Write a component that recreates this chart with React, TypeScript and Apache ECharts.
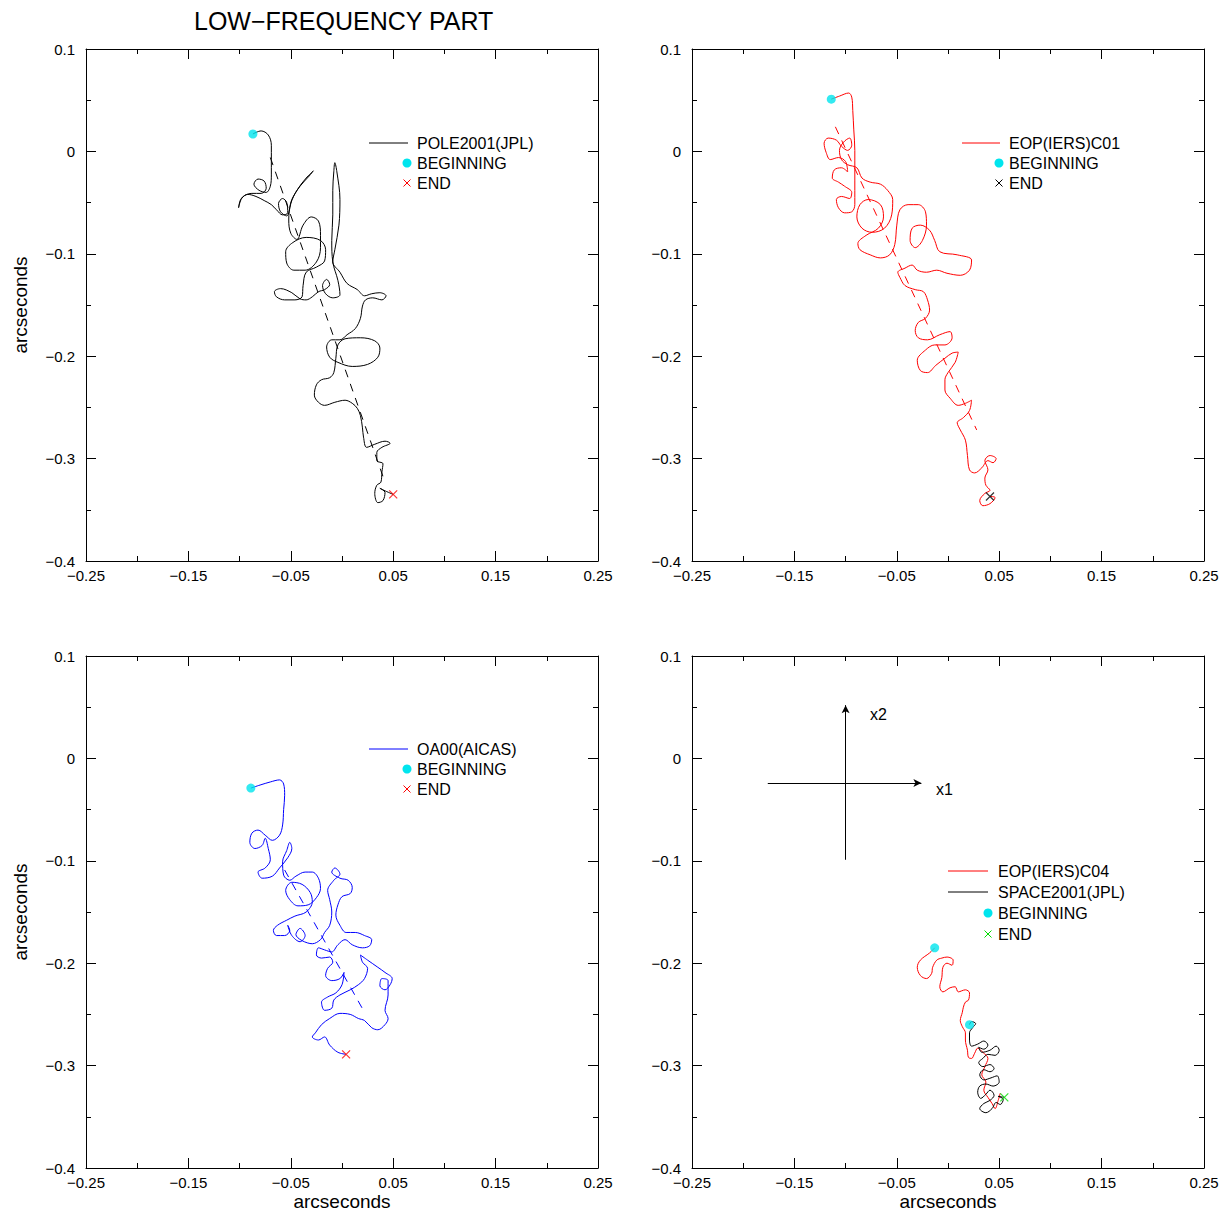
import React, { useEffect, useRef } from 'react';
import * as echarts from 'echarts';

const FONT = '"Liberation Sans", Arial, Helvetica, sans-serif';
const TITLE = 'LOW\u2212FREQUENCY PART';
const AXIS_NAME = 'arcseconds';

const X_MIN = -0.25, X_MAX = 0.25, X_STEP = 0.1;
const Y_MIN = -0.4, Y_MAX = 0.1, Y_STEP = 0.1;

const CYAN = '#00e5ee';
const RED = '#ff0000';
const BLUE = '#0000ff';
const GREEN = '#00dd00';
const BLACK = '#000000';

// Panel 1: POLE2001(JPL)
const pole2001: number[][] = [
  [-0.087,0.017],[-0.079,0.020],[-0.072,0.016],[-0.069,0.006],[-0.069,-0.008],[-0.069,-0.023],[-0.070,-0.034],[-0.074,-0.040],[-0.081,-0.038],[-0.086,-0.032],[-0.082,-0.027],[-0.076,-0.029],[-0.074,-0.036],[-0.079,-0.041],[-0.088,-0.041],[-0.095,-0.043],[-0.099,-0.047],[-0.101,-0.055],[-0.098,-0.046],[-0.092,-0.042],[-0.084,-0.044],[-0.076,-0.048],[-0.069,-0.052],[-0.064,-0.057],[-0.058,-0.062],[-0.053,-0.060],[-0.054,-0.050],[-0.058,-0.046],[-0.062,-0.051],[-0.060,-0.059],[-0.054,-0.063],[-0.049,-0.047],[-0.041,-0.034],[-0.032,-0.024],[-0.028,-0.019],[-0.035,-0.026],[-0.044,-0.038],[-0.050,-0.051],[-0.052,-0.067],[-0.050,-0.080],[-0.044,-0.086],[-0.038,-0.072],[-0.030,-0.064],[-0.023,-0.068],[-0.021,-0.082],[-0.021,-0.094],[-0.025,-0.108],[-0.036,-0.116],[-0.047,-0.116],[-0.054,-0.109],[-0.055,-0.098],[-0.048,-0.089],[-0.035,-0.084],[-0.021,-0.087],[-0.016,-0.096],[-0.017,-0.107],[-0.025,-0.113],[-0.035,-0.118],[-0.038,-0.131],[-0.039,-0.142],[-0.046,-0.145],[-0.056,-0.145],[-0.064,-0.142],[-0.066,-0.137],[-0.060,-0.134],[-0.049,-0.138],[-0.041,-0.144],[-0.035,-0.145],[-0.029,-0.142],[-0.023,-0.137],[-0.017,-0.135],[-0.012,-0.130],[-0.015,-0.125],[-0.019,-0.131],[-0.016,-0.139],[-0.009,-0.143],[-0.002,-0.140],[-0.004,-0.126],[-0.009,-0.108],[-0.010,-0.087],[-0.009,-0.062],[-0.009,-0.038],[-0.008,-0.020],[-0.007,-0.011],[-0.005,-0.020],[-0.002,-0.047],[-0.003,-0.072],[-0.007,-0.096],[-0.009,-0.108],[-0.002,-0.118],[0.005,-0.129],[0.015,-0.135],[0.022,-0.141],[0.029,-0.139],[0.037,-0.138],[0.043,-0.141],[0.039,-0.145],[0.030,-0.143],[0.023,-0.145],[0.020,-0.151],[0.018,-0.163],[0.013,-0.173],[0.005,-0.179],[-0.002,-0.184],[-0.010,-0.184],[-0.015,-0.191],[-0.012,-0.201],[-0.004,-0.206],[0.010,-0.210],[0.025,-0.208],[0.035,-0.201],[0.037,-0.192],[0.032,-0.185],[0.018,-0.182],[0.003,-0.183],[-0.004,-0.189],[-0.006,-0.202],[-0.008,-0.216],[-0.012,-0.221],[-0.020,-0.223],[-0.025,-0.228],[-0.027,-0.238],[-0.023,-0.245],[-0.017,-0.248],[-0.007,-0.245],[0.003,-0.243],[0.010,-0.246],[0.015,-0.251],[0.018,-0.258],[0.020,-0.270],[0.021,-0.279],[0.024,-0.289],[0.032,-0.286],[0.042,-0.283],[0.047,-0.285],[0.039,-0.289],[0.034,-0.294],[0.034,-0.302],[0.040,-0.305],[0.039,-0.313],[0.038,-0.323],[0.034,-0.326],[0.032,-0.334],[0.035,-0.343],[0.040,-0.341],[0.042,-0.333],[0.037,-0.329],[0.041,-0.331],[0.050,-0.335]
];
const pole2001Trend: number[][] = [[-0.070,-0.006],[0.042,-0.323]];

// Panel 2: EOP(IERS)C01
const eopC01: number[][] = [
  [-0.114,0.051],[-0.106,0.054],[-0.097,0.057],[-0.094,0.053],[-0.093,0.040],[-0.092,0.021],[-0.091,0.001],[-0.091,-0.018],[-0.091,-0.038],[-0.091,-0.052],[-0.094,-0.059],[-0.101,-0.060],[-0.107,-0.055],[-0.109,-0.047],[-0.104,-0.044],[-0.096,-0.046],[-0.094,-0.040],[-0.101,-0.034],[-0.107,-0.030],[-0.113,-0.026],[-0.111,-0.018],[-0.104,-0.016],[-0.098,-0.020],[-0.100,-0.010],[-0.107,-0.006],[-0.115,-0.008],[-0.119,-0.001],[-0.121,0.008],[-0.117,0.013],[-0.109,0.011],[-0.104,0.005],[-0.098,0.001],[-0.094,0.006],[-0.096,0.013],[-0.102,0.009],[-0.106,0.001],[-0.104,-0.008],[-0.098,-0.013],[-0.089,-0.016],
  [-0.084,-0.026],[-0.076,-0.030],[-0.066,-0.032],[-0.059,-0.038],[-0.054,-0.047],[-0.055,-0.062],[-0.062,-0.075],[-0.074,-0.079],[-0.084,-0.075],[-0.089,-0.064],[-0.086,-0.052],[-0.078,-0.047],[-0.066,-0.052],[-0.063,-0.064],[-0.068,-0.075],[-0.080,-0.082],[-0.088,-0.090],[-0.086,-0.096],[-0.076,-0.101],[-0.066,-0.104],[-0.057,-0.101],[-0.052,-0.091],[-0.050,-0.072],[-0.047,-0.057],[-0.039,-0.052],[-0.029,-0.052],[-0.022,-0.059],[-0.021,-0.072],[-0.025,-0.087],[-0.032,-0.094],[-0.037,-0.087],[-0.035,-0.075],[-0.027,-0.072],[-0.018,-0.077],[-0.013,-0.087],[-0.008,-0.098],[0.009,-0.101],[0.023,-0.106],[0.021,-0.116],[0.012,-0.121],[-0.001,-0.119],[-0.011,-0.116],[-0.021,-0.118],[-0.030,-0.116],[-0.035,-0.111],[-0.042,-0.114],[-0.049,-0.118],[-0.047,-0.123],
  [-0.042,-0.131],[-0.032,-0.135],[-0.024,-0.137],[-0.020,-0.145],[-0.018,-0.155],[-0.022,-0.163],[-0.029,-0.167],[-0.032,-0.175],[-0.029,-0.182],[-0.020,-0.184],[-0.008,-0.179],[0.002,-0.176],[0.004,-0.182],[-0.003,-0.189],[-0.013,-0.189],[-0.022,-0.194],[-0.030,-0.204],[-0.027,-0.214],[-0.020,-0.216],[-0.012,-0.209],[-0.003,-0.202],[0.004,-0.197],[0.010,-0.196],[0.007,-0.206],[0.000,-0.216],[-0.003,-0.223],[-0.003,-0.233],[0.002,-0.241],[0.010,-0.248],[0.017,-0.246],[0.023,-0.243],[0.021,-0.253],[0.015,-0.260],[0.009,-0.265],[0.012,-0.272],[0.017,-0.282],[0.019,-0.297],[0.021,-0.311],[0.026,-0.314],[0.033,-0.309],[0.039,-0.302],[0.044,-0.304],[0.047,-0.300],[0.041,-0.297],[0.036,-0.302],[0.039,-0.311],[0.036,-0.319],[0.037,-0.326],[0.041,-0.331],[0.036,-0.334],[0.031,-0.341],[0.034,-0.346],[0.041,-0.344],[0.046,-0.338],[0.041,-0.337]
];
const eopC01Trend: number[][] = [[-0.110,0.024],[0.028,-0.272]];

// Panel 3: OA00(AICAS)
const oa00: number[][] = [
  [-0.089,-0.029],[-0.080,-0.026],[-0.070,-0.023],[-0.061,-0.021],[-0.057,-0.025],[-0.056,-0.036],[-0.057,-0.050],[-0.058,-0.065],[-0.061,-0.075],[-0.068,-0.080],[-0.075,-0.075],[-0.082,-0.070],[-0.088,-0.073],[-0.090,-0.082],[-0.085,-0.088],[-0.078,-0.085],[-0.075,-0.078],[-0.072,-0.088],[-0.070,-0.099],[-0.075,-0.107],[-0.082,-0.111],[-0.078,-0.117],[-0.068,-0.115],[-0.061,-0.107],[-0.053,-0.097],[-0.049,-0.088],[-0.051,-0.082],[-0.054,-0.090],[-0.058,-0.101],[-0.057,-0.114],[-0.051,-0.119],[-0.045,-0.115],[-0.036,-0.111],[-0.029,-0.111],[-0.023,-0.117],[-0.021,-0.127],[-0.025,-0.136],[-0.033,-0.143],[-0.043,-0.144],[-0.051,-0.138],[-0.055,-0.129],[-0.049,-0.121],[-0.039,-0.123],[-0.031,-0.131],[-0.029,-0.140],[-0.035,-0.150],[-0.046,-0.154],[-0.054,-0.158],[-0.063,-0.163],[-0.067,-0.168],[-0.064,-0.173],[-0.056,-0.173],[-0.051,-0.168],[-0.053,-0.163],[-0.049,-0.173],[-0.041,-0.179],[-0.036,-0.173],[-0.041,-0.166],[-0.045,-0.172],[-0.029,-0.181],[-0.021,-0.177],[-0.017,-0.170],[-0.012,-0.163],[-0.010,-0.150],[-0.012,-0.138],[-0.014,-0.129],[-0.008,-0.119],[-0.002,-0.113],[-0.007,-0.107],[-0.010,-0.111],[-0.002,-0.117],[0.006,-0.119],[0.010,-0.126],[0.008,-0.132],[0.000,-0.135],[-0.004,-0.143],[-0.006,-0.153],[-0.002,-0.163],[0.004,-0.170],[0.013,-0.170],[0.022,-0.173],[0.029,-0.177],[0.027,-0.183],[0.020,-0.185],[0.010,-0.182],[0.003,-0.177],[-0.004,-0.182],[-0.010,-0.189],[-0.017,-0.187],[-0.023,-0.185],[-0.025,-0.192],[-0.020,-0.195],[-0.012,-0.194],[-0.009,-0.199],[-0.014,-0.205],[-0.016,-0.212],[-0.010,-0.217],[-0.002,-0.215],[0.002,-0.209],[0.000,-0.221],[-0.006,-0.229],[-0.014,-0.233],[-0.020,-0.238],[-0.017,-0.246],[-0.010,-0.244],[-0.008,-0.236],[-0.002,-0.231],[0.008,-0.226],[0.016,-0.221],[0.022,-0.215],[0.025,-0.205],[0.020,-0.199],[0.018,-0.192],[0.025,-0.197],[0.035,-0.204],[0.042,-0.209],[0.049,-0.215],[0.047,-0.221],[0.042,-0.226],[0.037,-0.222],[0.039,-0.215],[0.045,-0.217],[0.045,-0.231],[0.042,-0.246],[0.045,-0.254],[0.042,-0.260],[0.035,-0.265],[0.029,-0.263],[0.022,-0.256],[0.016,-0.254],[0.008,-0.250],[-0.002,-0.249],[-0.012,-0.254],[-0.020,-0.260],[-0.026,-0.268],[-0.029,-0.272],[-0.023,-0.275],[-0.017,-0.272],[-0.012,-0.280],[-0.004,-0.287],[0.004,-0.289]
];
const oa00Trend: number[][] = [[-0.056,-0.109],[0.022,-0.248]];

// Panel 4: EOP(IERS)C04 and SPACE2001(JPL)
const eopC04: number[][] = [
  [-0.013,-0.185],[-0.018,-0.190],[-0.027,-0.197],[-0.030,-0.204],[-0.027,-0.212],[-0.021,-0.215],[-0.016,-0.210],[-0.015,-0.204],[-0.011,-0.197],[-0.006,-0.195],[-0.001,-0.194],[0.005,-0.197],[0.004,-0.202],[-0.001,-0.200],[-0.005,-0.204],[-0.006,-0.214],[-0.008,-0.223],[-0.005,-0.228],[0.002,-0.224],[0.007,-0.223],[0.010,-0.228],[0.017,-0.226],[0.021,-0.229],[0.020,-0.236],[0.017,-0.238],[0.015,-0.243],[0.014,-0.248],[0.012,-0.256],[0.014,-0.262],[0.017,-0.268],[0.017,-0.275],[0.019,-0.285],[0.020,-0.292],[0.023,-0.293],[0.026,-0.288],[0.029,-0.283],[0.034,-0.287],[0.039,-0.293],[0.036,-0.301],[0.033,-0.309],[0.037,-0.316],[0.035,-0.324],[0.039,-0.331],[0.043,-0.337],[0.046,-0.342],[0.049,-0.334],[0.051,-0.327]
];
const space2001: number[][] = [
  [0.021,-0.260],[0.023,-0.257],[0.027,-0.259],[0.024,-0.263],[0.021,-0.268],[0.021,-0.275],[0.023,-0.281],[0.029,-0.279],[0.035,-0.276],[0.039,-0.280],[0.035,-0.284],[0.030,-0.282],[0.033,-0.287],[0.041,-0.285],[0.047,-0.281],[0.050,-0.285],[0.046,-0.290],[0.039,-0.289],[0.034,-0.293],[0.030,-0.297],[0.034,-0.301],[0.041,-0.299],[0.045,-0.303],[0.041,-0.306],[0.035,-0.304],[0.031,-0.309],[0.035,-0.314],[0.042,-0.312],[0.048,-0.310],[0.050,-0.316],[0.044,-0.320],[0.037,-0.318],[0.031,-0.320],[0.029,-0.326],[0.032,-0.332],[0.037,-0.328],[0.041,-0.324],[0.045,-0.329],[0.041,-0.334],[0.035,-0.337],[0.031,-0.342],[0.037,-0.346],[0.043,-0.342],[0.047,-0.336],[0.051,-0.338],[0.054,-0.333],[0.049,-0.330],[0.055,-0.331]
];

// Reference frame arrows (x1, x2) in panel 4
const axisArrowX1: number[][] = [[-0.176,-0.024],[-0.026,-0.024]];
const axisArrowX2: number[][] = [[-0.1,-0.099],[-0.1,0.052]];

const LEGEND_BEGIN = 'BEGINNING';
const LEGEND_END = 'END';

const GRID_SIZE = 512;
const GRIDS = [
  { left: 86, top: 49 },
  { left: 692, top: 49 },
  { left: 86, top: 656 },
  { left: 692, top: 656 },
];

const CROSS = 'path://M0,0L10,10M10,0L0,10';

function fmt(v: number) {
  const r = Math.round(v * 100) / 100;
  if (Math.abs(r) < 1e-9) return '0';
  return (r < 0 ? '\u2212' : '') + String(Math.abs(r));
}

function buildOption() {
  const xAxis: any[] = [];
  const yAxis: any[] = [];
  const grid: any[] = [];
  const tickCommon = {
    axisLine: { show: true, onZero: false, lineStyle: { color: BLACK, width: 1 } },
    axisTick: { show: true, inside: true, length: 10, lineStyle: { color: BLACK, width: 1 } },
    minorTick: { show: true, splitNumber: 2, length: 5, lineStyle: { color: BLACK, width: 1 } },
    splitLine: { show: false },
    minorSplitLine: { show: false },
  };
  GRIDS.forEach((g, i) => {
    grid.push({ left: g.left, top: g.top, width: GRID_SIZE, height: GRID_SIZE, containLabel: false });
    const xLab = {
      show: true, formatter: fmt, fontSize: 15, color: BLACK, fontFamily: FONT, margin: 7,
      showMinLabel: true, showMaxLabel: true,
    };
    const yLab = { ...xLab, margin: 11 };
    const nameStyle = { fontSize: 19, color: BLACK, fontFamily: FONT };
    xAxis.push({
      type: 'value', gridIndex: i, position: 'bottom', min: X_MIN, max: X_MAX, interval: X_STEP,
      ...tickCommon, axisLabel: xLab,
      name: i >= 2 ? AXIS_NAME : '', nameLocation: 'middle', nameGap: 24, nameTextStyle: nameStyle,
    });
    xAxis.push({
      type: 'value', gridIndex: i, position: 'top', min: X_MIN, max: X_MAX, interval: X_STEP,
      ...tickCommon, axisLabel: { show: false },
    });
    yAxis.push({
      type: 'value', gridIndex: i, position: 'left', min: Y_MIN, max: Y_MAX, interval: Y_STEP,
      ...tickCommon, axisLabel: yLab,
      name: i % 2 === 0 ? AXIS_NAME : '', nameLocation: 'middle', nameGap: 56, nameTextStyle: nameStyle,
    });
    yAxis.push({
      type: 'value', gridIndex: i, position: 'right', min: Y_MIN, max: Y_MAX, interval: Y_STEP,
      ...tickCommon, axisLabel: { show: false },
    });
  });

  const series: any[] = [];
  const ax = (i: number) => ({ xAxisIndex: 2 * i, yAxisIndex: 2 * i });
  const line = (i: number, name: string, data: number[][], color: string) => ({
    type: 'line', name, ...ax(i), data, showSymbol: false, smooth: 0.35,
    lineStyle: { color, width: 1 }, itemStyle: { color }, z: 2,
  });
  const trend = (i: number, data: number[][], color: string) => ({
    type: 'line', name: 'trend' + i, ...ax(i), data, showSymbol: false,
    lineStyle: { color, width: 1, type: [8, 7] }, z: 1,
  });
  const begin = (i: number, pts: number[][]) => ({
    type: 'scatter', name: LEGEND_BEGIN, ...ax(i), data: pts, symbol: 'circle', symbolSize: 9,
    itemStyle: { color: CYAN }, z: 5,
  });
  const end = (i: number, pts: number[][], color: string) => ({
    type: 'scatter', name: LEGEND_END, ...ax(i), data: pts, symbol: CROSS, symbolSize: 8,
    itemStyle: { color: 'rgba(0,0,0,0)', borderColor: color, borderWidth: 1.2 }, z: 5,
  });
  const last = (a: number[][]) => a[a.length - 1];

  series.push(trend(0, pole2001Trend, BLACK));
  series.push(line(0, 'POLE2001(JPL)', pole2001, BLACK));
  series.push(begin(0, [pole2001[0]]));
  series.push(end(0, [last(pole2001)], RED));

  series.push(trend(1, eopC01Trend, RED));
  series.push(line(1, 'EOP(IERS)C01', eopC01, RED));
  series.push(begin(1, [eopC01[0]]));
  series.push(end(1, [last(eopC01)], BLACK));

  series.push(trend(2, oa00Trend, BLUE));
  series.push(line(2, 'OA00(AICAS)', oa00, BLUE));
  series.push(begin(2, [oa00[0]]));
  series.push(end(2, [last(oa00)], RED));

  series.push(line(3, 'EOP(IERS)C04', eopC04, RED));
  series.push(line(3, 'SPACE2001(JPL)', space2001, BLACK));
  series.push(begin(3, [eopC04[0], space2001[0]]));
  series.push(end(3, [last(space2001)], GREEN));
  series.push({
    type: 'line', name: 'frame', ...ax(3), data: [], showSymbol: false,
    markLine: {
      silent: true, animation: false, symbol: ['none', 'arrow'], symbolSize: [6, 8],
      lineStyle: { color: BLACK, width: 1, type: 'solid' }, label: { show: false },
      data: [
        [{ coord: axisArrowX1[0] }, { coord: axisArrowX1[1] }],
        [{ coord: axisArrowX2[0] }, { coord: axisArrowX2[1] }],
      ],
    },
  });

  const txt = (x: number, y: number, text: string, size = 16) => ({
    type: 'text', x, y, silent: true,
    style: { text, fill: BLACK, font: `${size}px ${FONT}`, verticalAlign: 'middle', align: 'left' },
  });
  const lineSample = (x1: number, x2: number, y: number, color: string) => ({
    type: 'line', silent: true, shape: { x1, y1: y, x2, y2: y }, style: { stroke: color, lineWidth: 1 },
  });
  const dot = (cx: number, cy: number) => ({
    type: 'circle', silent: true, shape: { cx, cy, r: 4.5 }, style: { fill: CYAN },
  });
  const cross = (cx: number, cy: number, color: string) => ({
    type: 'group', silent: true, children: [
      { type: 'line', shape: { x1: cx - 3.5, y1: cy - 3.5, x2: cx + 3.5, y2: cy + 3.5 }, style: { stroke: color, lineWidth: 1 } },
      { type: 'line', shape: { x1: cx + 3.5, y1: cy - 3.5, x2: cx - 3.5, y2: cy + 3.5 }, style: { stroke: color, lineWidth: 1 } },
    ],
  });

  const graphic: any[] = [
    lineSample(369, 408, 143, BLACK), txt(417, 143, 'POLE2001(JPL)'),
    dot(407, 163), txt(417, 163, LEGEND_BEGIN),
    cross(407, 183, RED), txt(417, 183, LEGEND_END),
    lineSample(962, 1000, 143, RED), txt(1009, 143, 'EOP(IERS)C01'),
    dot(999, 163), txt(1009, 163, LEGEND_BEGIN),
    cross(999, 183, BLACK), txt(1009, 183, LEGEND_END),
    lineSample(369, 408, 749, BLUE), txt(417, 749, 'OA00(AICAS)'),
    dot(407, 769), txt(417, 769, LEGEND_BEGIN),
    cross(407, 789, RED), txt(417, 789, LEGEND_END),
    lineSample(948, 988, 871, RED), txt(998, 871, 'EOP(IERS)C04'),
    lineSample(948, 988, 892, BLACK), txt(998, 892, 'SPACE2001(JPL)'),
    dot(988, 913), txt(998, 913, LEGEND_BEGIN),
    cross(988, 934, GREEN), txt(998, 934, LEGEND_END),
    txt(870, 714, 'x2', 16), txt(936, 789, 'x1', 16),
  ];

  return {
    animation: false,
    backgroundColor: '#ffffff',
    title: {
      text: TITLE, left: 189, top: 3,
      textStyle: { fontSize: 25, fontWeight: 'normal', color: BLACK, fontFamily: FONT },
    },
    grid, xAxis, yAxis, series, graphic,
  };
}

export default function App() {
  const ref = useRef<HTMLDivElement>(null);
  useEffect(() => {
    if (!ref.current) return;
    const chart = echarts.init(ref.current, null, { renderer: 'svg', width: 1228, height: 1213 });
    chart.setOption(buildOption() as any);
    return () => chart.dispose();
  }, []);
  return (
    <div
      ref={ref}
      style={{ position: 'absolute', left: 0, top: 0, width: 1228, height: 1213, background: '#fff' }}
    />
  );
}
